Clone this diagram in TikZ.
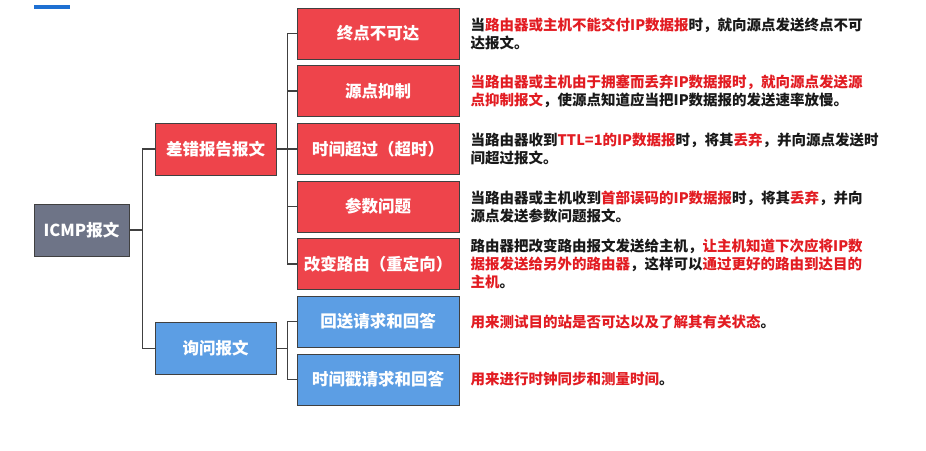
\documentclass[tikz,border=0pt]{standalone}
\usepackage{fontspec}
\setmainfont{Noto Sans CJK SC}
\usetikzlibrary{positioning}
\definecolor{boxred}{RGB}{238,68,75}
\definecolor{boxblue}{RGB}{92,158,228}
\definecolor{boxgray}{RGB}{110,116,135}
\definecolor{txtred}{RGB}{226,28,34}
\definecolor{linegray}{RGB}{64,64,64}
\definecolor{barblue}{RGB}{30,112,210}
\newcommand{\redpart}[1]{\textcolor{txtred}{#1}}
\tikzset{
msgbox/.style={draw=linegray,line width=1pt,text=white,inner sep=0pt,
  font=\fontsize{16.5}{18}\selectfont\bfseries,minimum height=51pt},
errbox/.style={msgbox,fill=boxred},
askbox/.style={msgbox,fill=boxblue},
midbox/.style={minimum width=121pt,minimum height=52pt},
leafbox/.style={minimum width=162pt},
desc/.style={right=11pt of #1,align=left,inner sep=0pt,text=black!90,
  font=\fontsize{14.5}{18}\selectfont\bfseries},
branch/.style={draw=linegray,line width=1.5pt}}

\begin{document}
\begin{tikzpicture}[x=1pt,y=1pt,yscale=-1,xscale=1]
\useasboundingbox (0,0) rectangle (926,450);

%Shape: title bar
\fill[barblue] (34,5) rectangle (70,9);

% root and middle boxes
\node[msgbox,fill=boxgray,minimum width=95pt,minimum height=52pt] (icmp) at (81.5,230) {ICMP报文};
\node[errbox,midbox] (err) at (215.5,149) {差错报告报文};
\node[askbox,midbox] (ask) at (215.5,348.5) {询问报文};

% leaf boxes
\node[errbox,leafbox] (unreach) at (378,33.5) {终点不可达};
\node[errbox,leafbox] (quench) at (378,91) {源点抑制};
\node[errbox,leafbox] (timeout) at (378,149) {时间超过（超时）};
\node[errbox,leafbox] (param) at (378,206.5) {参数问题};
\node[errbox,leafbox] (redirect) at (378,264) {改变路由（重定向）};
\node[askbox,leafbox] (echo) at (378,321.5) {回送请求和回答};
\node[askbox,leafbox] (stamp) at (378,379.5) {时间戳请求和回答};

%Straight Lines
\coordinate (ja) at ([xshift=13pt]icmp.east);
\draw[branch] (icmp.east) -- (ja) (err.west) -| (ja) |- (ask.west);
\coordinate (jb) at ([xshift=11pt]err.east);
\draw[branch] (err.east) -- (jb);
\foreach \leaf in {unreach,quench,timeout,param,redirect}
  \draw[branch] (jb) |- (\leaf.west);
\coordinate (jc) at ([xshift=11pt]ask.east);
\draw[branch] (ask.east) -- (jc);
\foreach \leaf in {echo,stamp}
  \draw[branch] (jc) |- (\leaf.west);

% Text Node
\node[desc=unreach] (dunreach) {当\redpart{路由器或主机不能交付IP数据报}时，就向源点发送终点不可\\达报文。};
% Text Node
\node[desc=quench] (dquench) {\redpart{当路由器或主机由于拥塞而丢弃IP数据报时，就向源点发送源}\\\redpart{点抑制报文}，使源点知道应当把IP数据报的发送速率放慢。};
% Text Node
\node[desc=timeout] (dtimeout) {当路由器收到\redpart{TTL=1的IP数据报}时，将其\redpart{丢弃}，并向源点发送时\\间超过报文。};
% Text Node
\node[desc=param] (dparam) {当路由器或主机收到\redpart{首部误码的IP数据报}时，将其\redpart{丢弃}，并向\\源点发送参数问题报文。};
% Text Node
\node[desc=redirect] (dredirect) {路由器把改变路由报文发送给主机，\redpart{让主机知道下次应将IP数}\\\redpart{据报发送给另外的路由器}，这样可以\redpart{通过更好的路由到达目的}\\\redpart{主机}。};
% Text Node
\node[desc=echo] (decho) {\redpart{用来测试目的站是否可达以及了解其有关状态}。};
% Text Node
\node[desc=stamp] (dstamp) {\redpart{用来进行时钟同步和测量时间}。};

\end{tikzpicture}
\end{document}
